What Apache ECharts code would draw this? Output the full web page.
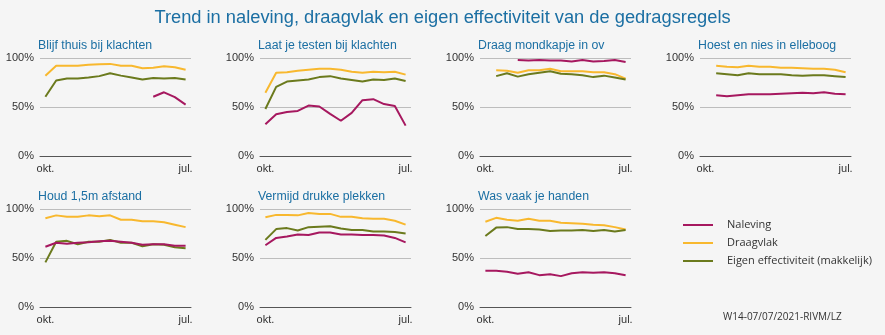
<!DOCTYPE html>
<html>
<head>
<meta charset="utf-8">
<script src="https://cdn.jsdelivr.net/npm/echarts@6/dist/echarts.min.js"></script>
<style>
  html, body { margin: 0; padding: 0; background: #f5f5f5; }
  #chart { width: 885px; height: 335px; }
</style>
</head>
<body>
<div id="chart"></div>
<script>
// ---- data ----
const rounds = ['R1','R2','R3','R4','R5','R6','R7','R8','R9','R10','R11','R12','R13','R14'];
const xTickLabels = ['okt.','','','','','','','','','','','','','jul.'];
const yTickValues = [0, 50, 100];

const panelTitles = [
  'Blijf thuis bij klachten',
  'Laat je testen bij klachten',
  'Draag mondkapje in ov',
  'Hoest en nies in elleboog',
  'Houd 1,5m afstand',
  'Vermijd drukke plekken',
  'Was vaak je handen'
];
const seriesNames = ['Naleving', 'Draagvlak', 'Eigen effectiviteit (makkelijk)'];

// Naleving
const naleving1 = [null,null,null,null,null,null,null,null,null,null,60.5,65,60,52.5];
const naleving2 = [32.5,42.5,45,46,51.5,50.5,43,36,44,57,58,53,51,31];
const naleving3 = [null,null,null,98,97.5,98,97.5,97.5,96.5,98,96.5,97,98,96];
const naleving4 = [null,62,61,62,63,63,63,63.5,64,64.5,64,65,63.5,63];
const naleving5 = [61.5,65.5,64.5,65.5,66,67,67.5,66.5,65.5,63.5,64,64,62.5,62.5];
const naleving6 = [63,70.5,72,74,73.5,76,76,74,74,73.5,73.5,73,70.5,66];
const naleving7 = [37,37,36,34,35.5,32.5,33.5,31.5,34.5,35.5,35,35.5,34.5,32.5];

// Draagvlak
const draagvlak1 = [82,92,92,92,93,93.5,94,92,92,89.5,90,91.5,90.5,88];
const draagvlak2 = [64.5,85,85.5,87,88,89,89,88,86,85,86,85.5,86,83];
const draagvlak3 = [null,87.5,87,85,87.5,87.5,89,86.5,86.5,86.5,85.5,85.5,83.5,79];
const draagvlak4 = [null,92,91,90.5,92,91,91,90,90,89.5,89,89,88,85.5];
const draagvlak5 = [90.5,93.5,92,92,93.5,92.5,93.5,89,89,87.5,87.5,86.5,84,81.5];
const draagvlak6 = [91.5,94,94,93.5,96,95,95,92,92,90.5,90,90,88,84];
const draagvlak7 = [87,91,89,88,90,88,88,86,85.5,85,84,83.5,81.5,79];

// Eigen effectiviteit (makkelijk)
const effect1 = [60.5,77,79,79,80,81.5,84.5,82,80,78,79.5,79,79.5,78];
const effect2 = [48,70.5,76,77,78,80.5,81.5,79,77.5,76,78,77.5,79,76.5];
const effect3 = [null,81.5,84.5,81,83.5,85,86.5,84,83.5,82.5,80.5,82,80,78];
const effect4 = [null,84.5,83.5,82.5,84.5,83.5,83.5,83.5,82.5,82,82.5,82.5,81.5,80.5];
const effect5 = [45.5,66.5,67.5,64,66.5,66.5,68.5,65.5,65.5,62,64,63.5,61,60];
const effect6 = [68.5,79.5,80.5,78,81.5,82,82.5,80,78.5,78.5,77,77,76.5,75];
const effect7 = [72.5,81,81.5,79.5,79.5,79,77.5,78,78,78.5,77.5,78.5,77,78.5];

const nalevingAll = [naleving1,naleving2,naleving3,naleving4,naleving5,naleving6,naleving7];
const draagvlakAll = [draagvlak1,draagvlak2,draagvlak3,draagvlak4,draagvlak5,draagvlak6,draagvlak7];
const effectAll = [effect1,effect2,effect3,effect4,effect5,effect6,effect7];

// ---- styling ----
const colors = ['#a6185f', '#f8b82e', '#6b7a1d'];
const titleBlue = '#1b6fa3';
const font = 'Arial, "Liberation Sans", sans-serif';

const grids = [], xAxes = [], yAxes = [], series = [], titles = [];
titles.push({
  text: 'Trend in naleving, draagvlak en eigen effectiviteit van de gedragsregels',
  left: 'center', top: 4,
  textStyle: { color: titleBlue, fontSize: 18.3, fontWeight: 'normal', fontFamily: font }
});

panelTitles.forEach((t, i) => {
  const c = i % 4, r = Math.floor(i / 4);
  const left = 40 + 220 * c;
  const top = r === 0 ? 58 : 209;
  grids.push({ left: left, top: top, width: 151, height: 98 });
  titles.push({
    text: t, left: left - 2, top: top - 18, padding: 0,
    textStyle: { color: titleBlue, fontSize: 12.3, fontWeight: 'normal', fontFamily: font }
  });
  xAxes.push({
    type: 'category', gridIndex: i, data: rounds, boundaryGap: true,
    axisLine: { lineStyle: { color: '#555', width: 1 } },
    axisTick: { alignWithLabel: true, length: 3, lineStyle: { color: '#555' }, interval: 0 },
    axisLabel: {
      interval: 0, margin: 7, color: '#333', fontSize: 11, fontFamily: font,
      formatter: (v, idx) => xTickLabels[idx]
    },
    splitLine: { show: false }
  });
  yAxes.push({
    type: 'value', gridIndex: i, min: yTickValues[0], max: yTickValues[2], interval: 50,
    axisLine: { show: false }, axisTick: { show: false },
    axisLabel: { margin: 6, color: '#333', fontSize: 11, fontFamily: font, formatter: v => v + '%' },
    splitLine: { lineStyle: { color: '#bdbdbd', width: 1 } }
  });
  const sets = [nalevingAll[i], draagvlakAll[i], effectAll[i]];
  // draw order: draagvlak, effect, naleving (naleving on top)
  [1, 2, 0].forEach(k => {
    series.push({
      name: seriesNames[k], type: 'line', xAxisIndex: i, yAxisIndex: i,
      data: sets[k], symbol: 'none', smooth: false,
      lineStyle: { color: colors[k], width: 2 }, itemStyle: { color: colors[k] },
      silent: true, animation: false
    });
  });
});

const chart = echarts.init(document.getElementById('chart'), null, { renderer: 'canvas' });
chart.setOption({
  backgroundColor: '#f5f5f5',
  animation: false,
  title: titles,
  grid: grids,
  xAxis: xAxes,
  yAxis: yAxes,
  series: series,
  legend: {
    data: seriesNames, orient: 'vertical', left: 678, top: 213,
    icon: 'rect', itemWidth: 30, itemHeight: 2, itemGap: 4,
    selectedMode: false,
    textStyle: { color: '#333', fontSize: 11, fontFamily: '"Open Sans", sans-serif', lineHeight: 14, padding: [0, 0, 0, 9] }
  },
  graphic: [{
    type: 'text', left: 723, top: 312,
    style: { text: 'W14-07/07/2021-RIVM/LZ', fill: '#333', font: '10px "Open Sans", sans-serif' }
  }]
});
</script>
</body>
</html>
